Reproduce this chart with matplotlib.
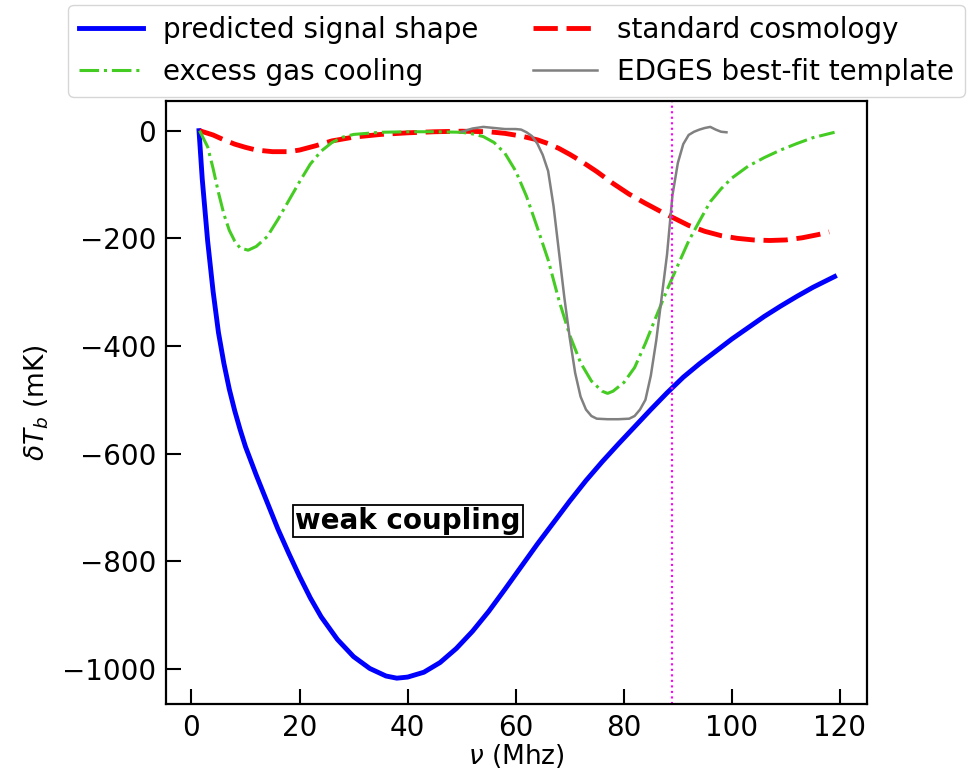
import matplotlib
matplotlib.use("Agg")
import matplotlib.pyplot as plt

# predicted signal shape (blue)
nu_sig = [1.4, 2, 3, 4, 5, 6, 7, 8, 9, 10, 12, 14, 16, 18, 20, 22, 24, 27, 30, 33,
          36, 38, 40, 43, 46, 49, 52, 55, 58, 61, 64, 67, 70, 73, 76, 79, 82, 85,
          88, 91, 94, 97, 100, 103, 106, 109, 112, 115, 119]
dT_sig = [0, -90, -205, -298, -375, -432, -480, -520, -555, -587, -640, -690, -740,
          -785, -828, -868, -903, -945, -977, -999, -1013, -1017, -1015, -1006, -988,
          -962, -930, -893, -852, -810, -768, -728, -688, -650, -615, -582, -550,
          -518, -487, -458, -433, -410, -387, -366, -345, -326, -308, -291, -271]

# standard cosmology (red dashed)
nu_std = [1.5, 4, 6, 8, 10, 12, 15, 18, 20, 23, 26, 30, 35, 40, 45, 50, 55, 58, 61,
          64, 66, 68, 70, 72, 75, 78, 81, 84, 87, 89, 92, 95, 98, 101, 104, 107, 110,
          113, 116, 118]
dT_std = [0, -8, -17, -25, -31, -36, -39, -39, -36, -28, -19, -12, -7, -4, -2, -1, -2,
          -5, -10, -17, -24, -33, -44, -56, -76, -98, -118, -135, -151, -161, -176,
          -187, -195, -200, -203, -204, -203, -199, -193, -188]

# excess gas cooling (green dash-dot)
nu_gas = [1.5, 3, 4, 5, 6, 7, 8, 9, 10.5, 12, 14, 16, 18, 20, 22, 24, 26, 28, 30, 35,
          40, 45, 50, 52, 54, 56, 58, 60, 62, 64, 66, 68, 70, 72, 74, 76, 77, 78, 80,
          82, 84, 86, 88, 90, 92, 94, 96, 98, 100, 103, 106, 109, 112, 115, 119]
dT_gas = [0, -30, -70, -115, -155, -185, -205, -218, -222, -215, -197, -165, -130, -95,
          -62, -38, -22, -12, -7, -3, -2, -2, -3, -6, -11, -22, -42, -75, -122, -180,
          -240, -315, -380, -431, -465, -484, -488, -484, -468, -440, -395, -345, -296,
          -250, -205, -168, -132, -108, -88, -66, -50, -36, -24, -13, -3]

# EDGES best-fit template (grey)
nu_edges = [50, 52, 54, 56, 58, 60, 61, 62, 63, 64, 65, 66, 67, 68, 69, 70, 71, 72, 73,
            74, 75, 77, 79, 81, 82, 83, 84, 85, 86, 87, 88, 89, 90, 91, 92, 93, 94, 95,
            96, 97, 98, 99]
dT_edges = [-2, 4, 7, 5, 3, 3, 2, -3, -10, -24, -45, -75, -140, -225, -310, -385, -450,
            -494, -518, -530, -535, -536, -536, -535, -530, -518, -500, -455, -390,
            -310, -230, -120, -60, -25, -8, -2, 2, 5, 7, 2, -2, -3]

nu_line = 89

plt.rcParams["font.size"] = 20

fig = plt.figure(figsize=(9.79, 7.75), dpi=100)
ax = fig.add_axes([0.1696, 0.0916, 0.716, 0.778])

l1, = ax.plot(nu_sig, dT_sig, color="blue", lw=3.5, label="predicted signal shape")
l2, = ax.plot(nu_std, dT_std, color="red", lw=3.5, ls="--", dashes=(5, 1.8),
              label="standard cosmology")
l3, = ax.plot(nu_gas, dT_gas, color="#44cc22", lw=2.2, ls="-.", label="excess gas cooling")
l4, = ax.plot(nu_edges, dT_edges, color="gray", lw=1.8, label="EDGES best-fit template")
ax.axvline(nu_line, color="magenta", lw=1.5, ls=":")

ax.text(40, -725, "weak coupling", fontsize=20, fontweight="bold",
        ha="center", va="center",
        bbox=dict(boxstyle="square,pad=0.08", fc="white", ec="black", lw=1.3))

ax.set_xlim(-4.7, 125)
ax.set_ylim(-1065, 55)
ax.set_xticks([0, 20, 40, 60, 80, 100, 120])
ax.set_yticks([0, -200, -400, -600, -800, -1000])
ax.tick_params(direction="in", length=11, width=1.5, labelsize=20, pad=7)
for s in ax.spines.values():
    s.set_linewidth(1.6)

ax.set_xlabel(r"$\nu$ (Mhz)", fontsize=19, labelpad=0)
ax.set_ylabel(r"$\delta T_b$ (mK)", fontsize=19, labelpad=8)

# column-wise fill: col1 = blue, green; col2 = red, grey
ax.legend([l1, l3, l2, l4], [l1.get_label(), l3.get_label(), l2.get_label(), l4.get_label()],
          loc="lower center", bbox_to_anchor=(0.5, 1.0), ncol=2, fontsize=20,
          handlelength=2.3, handletextpad=0.7, columnspacing=2.0,
          borderaxespad=0.15, labelspacing=0.5, borderpad=0.4)

fig.savefig("out.png", dpi=100)
